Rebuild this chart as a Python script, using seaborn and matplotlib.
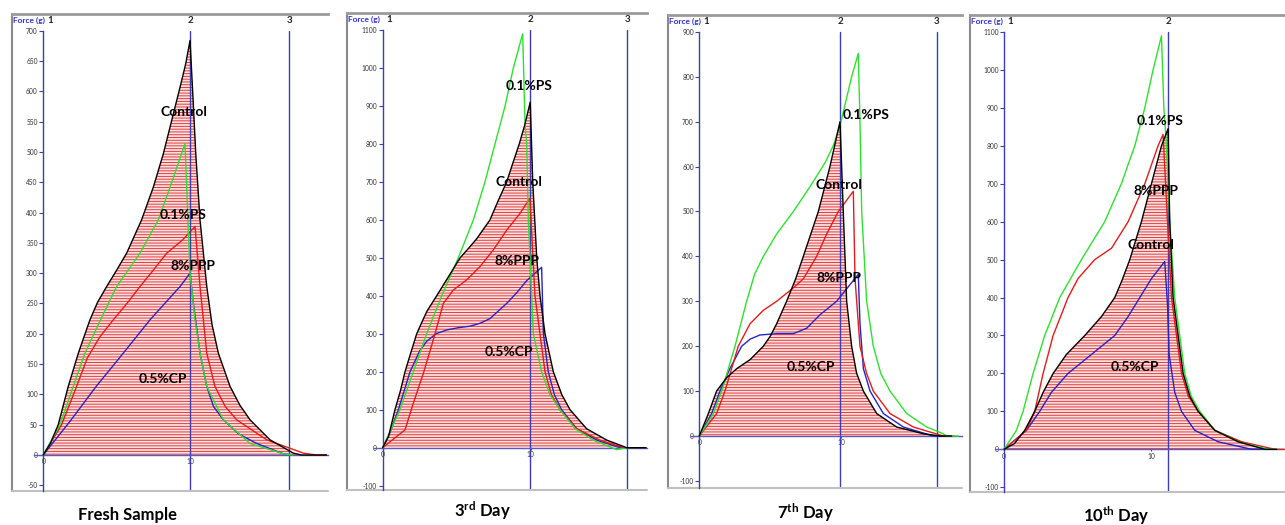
import matplotlib
matplotlib.use("Agg")
import matplotlib.pyplot as plt
import seaborn as sns
from matplotlib.transforms import blended_transform_factory

# ---------------- data (distance units, force in g) ----------------
# Fresh sample
p1_ctrl_x = [0, 0.5, 1.02, 1.70, 2.39, 3.18, 3.7, 4.32, 5.0, 5.68, 6.70, 7.50, 8.18, 8.75, 9.32, 9.7, 10.0,
             10.2, 10.39, 10.68, 11.14, 11.5, 11.93, 12.73, 13.4, 14.09, 15.45, 17.05, 17.6, 19.3]
p1_ctrl_y = [0, 20, 50, 113, 168, 223, 252, 278, 305, 333, 388, 442, 497, 552, 607, 645, 684,
             590, 497, 388, 278, 215, 168, 113, 82, 58, 25, 3, 0, 0]
p1_ps_x = [0, 1.14, 2.0, 2.84, 4.0, 5.0, 6.59, 7.84, 8.64, 9.32, 9.66, 9.89, 10.0, 10.34, 10.68, 11.14,
           12.27, 14.09, 16.36, 17.0]
p1_ps_y = [0, 50, 110, 168, 228, 278, 333, 388, 442, 490, 514, 365, 300, 223, 168, 113, 58, 19, 2, 0]
p1_ppp_x = [0, 1.25, 2.27, 3.0, 3.86, 4.77, 5.7, 6.59, 7.5, 8.41, 9.5, 10.34, 10.68, 11.14, 11.7,
            12.4, 13.18, 15.23, 17.73, 18.6, 19.3]
p1_ppp_y = [0, 50, 113, 160, 195, 223, 250, 278, 305, 333, 355, 377, 278, 168, 113, 80, 58, 25, 3, 0, 0]
p1_cp_x = [0, 1.9, 3.6, 5.45, 7.27, 9.32, 10.0, 10.23, 10.68, 11.14, 11.6, 12.27, 13.3, 14.55, 16.36, 17.0]
p1_cp_y = [0, 58, 113, 168, 223, 278, 300, 250, 168, 113, 80, 58, 35, 19, 2, 0]

# 3rd day
p2_ctrl_x = [0, 0.4, 0.83, 1.2, 1.51, 1.9, 2.30, 2.7, 3.0, 3.65, 4.44, 5.23, 5.8, 6.35, 6.8, 7.25,
             7.8, 8.38, 8.8, 9.23, 9.6, 9.97, 10.14, 10.41, 10.63, 10.97, 11.53, 12.1, 12.66,
             13.78, 15.14, 16.49, 17.8]
p2_ctrl_y = [0, 30, 100, 150, 200, 250, 300, 335, 360, 400, 450, 500, 525, 550, 575, 600,
             650, 700, 750, 800, 850, 910, 700, 500, 400, 300, 200, 140, 100, 50, 20, 0, 0]
p2_ps_x = [0, 1.17, 2.07, 2.97, 3.99, 5.11, 6.13, 6.91, 7.59, 8.27, 8.83, 9.46, 9.62, 9.73,
           9.84, 10.18, 10.74, 11.3, 11.98, 13.0, 14.23, 15.81, 16.49, 17.0]
p2_ps_y = [0, 100, 200, 300, 400, 500, 600, 700, 800, 900, 1000, 1090, 850, 800,
           600, 300, 200, 140, 100, 50, 20, -5, 0, 0]
p2_ppp_x = [0, 1.51, 2.07, 2.75, 3.42, 4.10, 4.77, 5.68, 6.58, 7.48, 8.38, 9.28, 9.95,
            10.29, 10.97, 11.4, 11.98, 13.11, 14.68, 16.26, 17.0]
p2_ppp_y = [0, 47, 117, 196, 284, 380, 415, 442, 477, 521, 573, 617, 657,
            400, 200, 140, 100, 50, 20, 0, 0]
p2_cp_x = [0, 0.5, 1.06, 1.85, 2.5, 2.97, 3.6, 4.32, 5.1, 5.90, 6.6, 7.25, 8.38, 9.1, 9.73, 10.74, 10.86,
           11.19, 11.6, 12.09, 13.11, 14.46, 16.04, 17.0]
p2_cp_y = [0, 40, 100, 200, 255, 280, 300, 310, 316, 320, 328, 340, 380, 410, 440, 475, 300,
           200, 140, 100, 50, 20, 0, 0]

# 7th day
p3_ctrl_x = [0, 0.64, 1.22, 1.93, 2.64, 3.58, 4.52, 5.0, 5.46, 6.16, 6.8, 7.34, 8.40, 9.22, 9.93,
             10.16, 10.40, 10.75, 11.1, 11.58, 12.52, 13.93, 15.81, 16.99, 17.8]
p3_ctrl_y = [0, 50, 100, 130, 150, 170, 200, 222, 250, 300, 350, 400, 500, 600, 700,
             500, 300, 200, 140, 100, 50, 20, 5, 0, 0]
p3_ps_x = [0, 0.99, 1.58, 2.52, 3.34, 3.9, 4.52, 5.46, 6.64, 7.81, 8.9, 9.5, 10.0, 10.75, 11.22,
           11.34, 11.46, 11.81, 12.28, 12.8, 13.46, 14.64, 16.05, 17.22, 17.46, 18.3]
p3_ps_y = [0, 50, 100, 200, 300, 360, 400, 450, 500, 555, 610, 650, 700, 800, 852,
           700, 500, 300, 200, 140, 100, 50, 20, 5, 0, 0]
p3_ppp_x = [0, 1.22, 1.81, 2.75, 3.58, 4.52, 5.46, 6.64, 7.34, 8.28, 8.99, 9.81, 10.87,
            10.99, 11.34, 11.8, 12.28, 13.46, 15.11, 17.22, 18.0]
p3_ppp_y = [0, 50, 100, 200, 250, 280, 300, 330, 350, 400, 450, 500, 545,
            350, 200, 140, 100, 50, 20, 0, 0]
p3_cp_x = [0, 0.87, 1.46, 2.16, 2.99, 3.6, 4.28, 5.5, 6.64, 7.58, 8.52, 9.69, 11.22, 11.34,
           11.58, 12.05, 12.99, 14.40, 16.52, 17.3]
p3_cp_y = [0, 50, 100, 150, 200, 216, 225, 228, 228, 240, 270, 300, 360, 250,
           150, 100, 50, 20, 0, 0]

# 10th day
p4_ctrl_x = [0, 0.7, 1.40, 2.08, 2.65, 3.33, 4.23, 5.48, 6.61, 7.51, 8.0, 8.53, 9.32, 10.0, 10.68,
             11.13, 11.24, 11.47, 12.15, 12.6, 13.17, 14.30, 15.88, 17.69, 18.5]
p4_ctrl_y = [0, 15, 50, 100, 150, 200, 250, 300, 350, 400, 445, 500, 600, 700, 800,
             845, 600, 400, 200, 140, 100, 50, 20, 0, 0]
p4_ps_x = [0, 0.84, 1.29, 1.97, 2.76, 3.78, 5.25, 6.83, 7.96, 8.87, 9.55, 10.11, 10.68,
           10.84, 11.02, 11.24, 11.58, 12.26, 12.7, 13.28, 14.30, 15.88, 17.92, 18.5]
p4_ps_y = [0, 50, 100, 200, 300, 400, 500, 600, 700, 800, 900, 1000, 1090,
           900, 800, 600, 400, 200, 140, 100, 50, 20, 0, 0]
p4_ppp_x = [0, 1.52, 2.08, 2.65, 3.33, 4.34, 5.02, 6.15, 7.29, 8.42, 9.55, 10.45, 10.79,
            11.09, 11.36, 12.04, 12.5, 13.17, 14.30, 16.11, 18.37, 19.0]
p4_ppp_y = [0, 50, 100, 200, 300, 400, 450, 500, 530, 600, 700, 800, 830,
            600, 400, 200, 140, 100, 50, 20, 0, 0]
p4_cp_x = [0, 1.52, 2.42, 3.21, 4.34, 5.93, 7.51, 8.42, 9.21, 10.0, 10.90, 11.09, 11.20,
           11.58, 12.04, 12.94, 14.52, 16.79, 17.5]
p4_cp_y = [0, 50, 100, 150, 200, 250, 300, 350, 400, 450, 495, 380, 250,
           150, 100, 50, 20, 0, 0]

series_names = ["Control", "0.1%PS", "8%PPP", "0.5%CP"]
captions = ["Fresh Sample", r"$\mathbf{3^{rd}}$ Day", r"$\mathbf{7^{th}}$ Day", r"$\mathbf{10^{th}}$ Day"]

# ---------------- styling ----------------
sns.set_theme(style="white")
plt.rcParams["font.family"] = ["Lato", "DejaVu Sans"]
plt.rcParams["mathtext.fontset"] = "custom"
plt.rcParams["mathtext.rm"] = "Lato"
plt.rcParams["mathtext.bf"] = "Lato:bold"
plt.rcParams["hatch.linewidth"] = 0.7

W, H = 1285, 525
fig = plt.figure(figsize=(W / 100, H / 100), dpi=100)
fig.patch.set_facecolor("white")

colors = {"Control": "#000000", "0.1%PS": "#2ee02e", "8%PPP": "#e01c1c", "0.5%CP": "#2424c8"}
axis_blue = "#3c3cb4"

panels = [
    dict(data={"Control": (p1_ctrl_x, p1_ctrl_y), "0.1%PS": (p1_ps_x, p1_ps_y),
               "8%PPP": (p1_ppp_x, p1_ppp_y), "0.5%CP": (p1_cp_x, p1_cp_y)},
         box=(12, 14, 328, 491), xlim=(-2.13, 19.4), ylim=(-59.4, 727.7),
         yticks=list(range(-50, 701, 50)), m2=10.0, m3=16.75,
         labels={"Control": (9.59, 566), "0.1%PS": (9.52, 396), "8%PPP": (10.2, 312), "0.5%CP": (8.16, 125)},
         cap=(127, 515)),
    dict(data={"Control": (p2_ctrl_x, p2_ctrl_y), "0.1%PS": (p2_ps_x, p2_ps_y),
               "8%PPP": (p2_ppp_x, p2_ppp_y), "0.5%CP": (p2_cp_x, p2_cp_y)},
         box=(347, 13, 647, 490), xlim=(-2.41, 17.86), ylim=(-111.4, 1144.8),
         yticks=list(range(-100, 1101, 100)), m2=9.97, m3=16.51,
         labels={"0.1%PS": (9.89, 953), "Control": (9.21, 700), "8%PPP": (9.07, 492), "0.5%CP": (8.53, 252)},
         cap=(483, 511)),
    dict(data={"Control": (p3_ctrl_x, p3_ctrl_y), "0.1%PS": (p3_ps_x, p3_ps_y),
               "8%PPP": (p3_ppp_x, p3_ppp_y), "0.5%CP": (p3_cp_x, p3_cp_y)},
         box=(668, 15, 962, 488), xlim=(-2.21, 18.54), ylim=(-115.8, 937.6),
         yticks=list(range(-100, 901, 100)), m2=9.93, m3=16.77,
         labels={"0.1%PS": (11.76, 715), "Control": (9.86, 559), "8%PPP": (9.86, 352), "0.5%CP": (7.88, 154)},
         cap=(806, 513)),
    dict(data={"Control": (p4_ctrl_x, p4_ctrl_y), "0.1%PS": (p4_ps_x, p4_ps_y),
               "8%PPP": (p4_ppp_x, p4_ppp_y), "0.5%CP": (p4_cp_x, p4_cp_y)},
         box=(970, 15, 1285, 492), xlim=(-2.31, 19.06), ylim=(-112.5, 1144.7),
         yticks=list(range(-100, 1101, 100)), m2=11.13, m3=None,
         labels={"0.1%PS": (10.56, 865), "8%PPP": (10.29, 681), "Control": (9.95, 539), "0.5%CP": (8.87, 217)},
         cap=(1116, 516)),
]

for i, p in enumerate(panels):
    l, t, r, b = p["box"]
    ax = fig.add_axes([l / W, 1 - b / H, (r - l) / W, (b - t) / H])
    ax.set_facecolor("white")
    ax.set_xlim(*p["xlim"])
    ax.set_ylim(*p["ylim"])
    ytop = p["yticks"][-1]

    # hatched area under the control curve
    cx, cy = p["data"]["Control"]
    ax.fill_between(cx, 0, cy, facecolor="#fbe1e1", edgecolor="#e23a3a",
                    hatch="------", linewidth=0, zorder=1)

    # marker lines 2 and 3
    trans = blended_transform_factory(ax.transData, ax.transAxes)
    ax.plot([p["m2"], p["m2"]], [p["ylim"][0], ytop], color=axis_blue, lw=1, zorder=1.5)
    ax.text(p["m2"], 0.987, "2", transform=trans, ha="center", va="center",
            fontsize=7, fontweight="bold", color="#222222")
    if p["m3"] is not None:
        ax.plot([p["m3"], p["m3"]], [p["ylim"][0], ytop], color=axis_blue, lw=1, zorder=1.5)
        ax.text(p["m3"], 0.987, "3", transform=trans, ha="center", va="center",
                fontsize=7, fontweight="bold", color="#222222")

    # curves
    for name in ["0.5%CP", "8%PPP", "0.1%PS", "Control"]:
        xs, ys = p["data"][name]
        sns.lineplot(x=xs, y=ys, ax=ax, color=colors[name], lw=1.0, sort=False,
                     estimator=None, zorder=3)

    # curve labels
    for name, (lx, ly) in p["labels"].items():
        ax.text(lx, ly, name, ha="center", va="center", fontsize=10,
                fontweight="bold", color="black", zorder=5)

    # axes styling (instrument-like)
    ax.spines["left"].set_position(("data", 0))
    ax.spines["left"].set_bounds(p["ylim"][0], ytop)
    ax.spines["left"].set_color(axis_blue)
    ax.spines["left"].set_linewidth(1)
    ax.spines["bottom"].set_position(("data", 0))
    ax.spines["bottom"].set_bounds(-0.6, p["xlim"][1])
    ax.spines["bottom"].set_color("#5a5ac0")
    ax.spines["bottom"].set_linewidth(1)
    ax.spines["right"].set_visible(False)
    ax.spines["top"].set_color("#9a9a9a")
    ax.spines["top"].set_linewidth(2)
    for s in ["left", "bottom"]:
        ax.spines[s].set_zorder(2)

    ax.set_yticks(p["yticks"])
    ax.set_yticklabels([str(v) for v in p["yticks"]])
    ax.set_xticks([0, 10])
    ax.set_xticklabels(["0", "10"])
    ax.tick_params(axis="y", direction="out", length=3, width=0.8, color=axis_blue,
                   labelsize=4.8, labelcolor="#333333", pad=1, left=True)
    ax.tick_params(axis="x", direction="inout", length=3, width=0.8, color=axis_blue,
                   labelsize=4.8, labelcolor="#333333", pad=1, bottom=True)
    ax.set_xlabel("")
    ax.set_ylabel("")
    ax.grid(False)

    # outer frame lines (left and bottom)
    ax.plot([0, 0], [0, 1], transform=ax.transAxes, color="#8a8a8a", lw=1.5, clip_on=False)
    ax.plot([0, 1], [0, 0], transform=ax.transAxes, color="#c0c0c0", lw=1.5, clip_on=False)

    # header texts
    ax.text(0.004, 0.987, "Force (g)", transform=ax.transAxes, ha="left", va="center",
            fontsize=6, fontweight="bold", color="#3030d0")
    ax.text(0.45, 0.987, "1", transform=trans, ha="center", va="center",
            fontsize=7, fontweight="bold", color="#222222")

    # caption
    fig.text(p["cap"][0] / W, 1 - p["cap"][1] / H, captions[i], ha="center", va="center",
             fontsize=12, fontweight="bold", color="black")

fig.savefig("out.png", dpi=100, facecolor="white")
